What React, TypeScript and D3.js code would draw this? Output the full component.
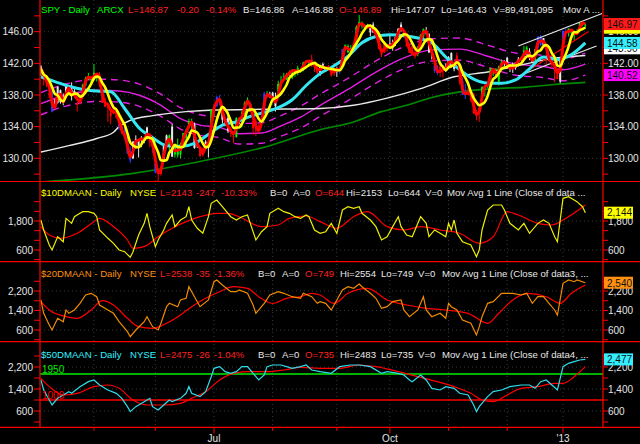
import React from "react";
import * as d3 from "d3";

// ---------------- DATA ----------------
// trading-day index 0 = 2012-04-03 ... 195 = 2013-01-14
const monthTickIdx = [19, 41, 62, 83, 106, 125, 146, 167, 187];
const monthTickLabels = ["", "", "Jul", "", "", "Oct", "", "", "'13"];

const opens = [141.6,140.3,139.4,138.0,138.5,137.3,137.0,138.6,137.9,137.8,138.8,138.7,138.5,136.9,137.0,138.6,139.2,140.3,140.1,139.9,140.1,140.6,138.5,136.5,136.4,135.3,136.5,135.2,134.3,134.0,133.6,132.6,130.9,130.0,132.4,131.5,132.6,132.5,133.0,132.5,131.8,129.3,128.3,128.0,129.6,132.9,131.5,134.0,130.5,131.5,130.5,131.8,132.6,133.9,134.7,134.3,131.6,131.2,130.4,131.2,131.3,134.0,136.1,136.6,137.2,135.9,134.9,135.1,133.6,132.8,132.7,134.7,135.4,135.6,137.3,136.8,133.8,134.7,133.7,135.8,135.8,138.2,137.9,138.3,137.2,138.5,139.5,140.1,140.0,140.6,140.2,140.9,141.4,140.9,141.2,142.2,142.1,142.5,141.6,141.3,140.6,141.9,141.3,141.5,140.9,141.0,141.3,141.1,141.5,143.7,144.2,143.4,144.3,144.3,146.9,146.9,146.6,146.6,145.9,146.9,145.3,145.9,143.7,143.4,144.0,144.5,144.6,144.7,145.4,146.9,145.8,145.8,144.1,144.2,143.4,143.2,144.6,145.4,145.9,145.7,143.3,141.7,141.6,141.6,141.2,141.5,141.5,143.3,141.3,142.1,141.5,139.8,138.0,138.6,137.4,138.1,135.8,135.7,137.6,138.9,139.1,139.9,140.9,140.9,139.7,141.9,142.0,142.7,141.5,141.3,141.4,142.1,142.5,142.8,144.0,143.5,142.7,142.3,144.0,145.4,144.3,142.8,142.6,142.5,141.8,140.6,139.7,145.1,145.9,145.9,145.9,145.7,145.9,146.7,147.1,146.89];
const highs = [141.8,140.4,140.0,139.3,138.9,137.5,139.1,138.7,138.2,139.4,139.2,139.6,138.8,137.1,137.8,139.4,140.3,140.8,140.3,141.9,140.6,140.9,138.8,137.6,136.6,136.3,136.8,136.4,134.7,134.6,134.2,132.8,131.5,132.2,132.9,132.4,132.8,132.7,134.0,132.5,132.6,129.6,128.8,129.0,131.9,133.0,133.0,134.3,131.7,132.5,132.0,133.2,133.7,135.0,135.0,134.5,132.3,131.3,131.3,132.3,131.8,136.2,136.6,137.8,138.0,136.0,135.0,135.9,134.0,133.0,135.2,135.1,136.0,137.2,137.7,137.0,135.0,135.0,134.3,136.2,138.4,138.5,138.4,138.4,138.3,139.8,140.4,140.8,140.8,141.1,141.2,141.1,141.7,141.4,142.2,142.4,142.4,143.1,142.0,141.5,141.8,142.1,141.5,141.8,141.1,142.1,141.6,141.6,143.8,144.4,144.4,144.3,144.6,146.8,148.1,147.3,146.9,147.0,146.7,147.2,145.9,146.1,143.9,144.8,144.2,145.5,145.0,145.4,146.4,147.2,146.2,145.9,144.4,144.4,143.9,144.2,145.7,146.4,146.6,145.8,143.6,142.5,141.8,142.0,141.6,142.0,142.9,143.4,142.1,143.4,141.8,140.2,139.4,138.9,138.6,138.3,136.1,136.4,139.1,139.2,139.5,141.4,141.1,141.4,141.7,142.5,142.4,142.8,141.8,142.1,142.1,142.8,142.8,144.2,144.2,143.9,142.8,143.8,145.4,145.6,145.2,143.2,142.8,142.6,142.0,141.4,142.6,146.2,146.4,146.4,146.1,145.8,146.3,147.1,147.2,147.07];
const lows = [140.4,139.2,139.0,137.6,135.8,136.5,136.9,136.9,136.7,137.6,138.4,137.3,137.9,135.9,136.8,138.4,139.1,139.9,139.6,139.8,139.7,139.0,137.0,136.5,134.6,134.3,135.6,135.0,133.6,133.0,132.5,130.6,129.4,129.9,131.2,130.1,131.4,131.9,132.4,131.4,130.7,128.1,127.1,127.8,129.6,131.6,131.0,130.2,130.1,130.1,130.0,131.5,132.3,133.8,133.5,131.2,131.3,130.1,130.2,131.0,130.1,133.9,135.2,136.5,136.7,134.4,134.1,133.2,132.7,131.9,132.6,134.3,133.9,135.4,136.8,135.9,133.0,132.8,133.1,134.9,135.6,137.7,137.6,137.2,135.9,138.3,139.3,139.9,139.9,140.4,140.0,140.3,140.5,140.8,141.0,142.0,141.8,141.5,140.9,140.6,140.4,141.3,140.9,141.2,140.3,140.4,140.3,140.7,141.5,143.6,143.3,143.4,143.9,144.2,146.6,146.4,146.2,146.4,145.4,145.9,145.2,143.8,142.8,143.3,143.5,144.0,143.6,144.2,145.3,146.0,145.6,144.1,143.3,143.3,142.6,142.9,144.5,145.2,145.6,143.3,142.5,140.8,140.5,140.3,140.2,140.9,141.5,141.5,141.0,141.9,139.3,138.0,137.5,138.0,137.1,135.6,134.8,134.6,137.5,137.8,138.9,139.8,140.4,140.4,139.2,141.5,141.6,141.5,140.9,140.8,141.2,141.6,142.3,142.8,143.2,142.4,142.1,142.2,143.7,144.2,144.0,141.8,142.3,141.4,139.6,140.0,139.5,144.7,145.3,145.4,145.4,144.9,145.7,146.2,146.7,146.43];
const closes = [141.3,139.9,139.8,138.2,135.9,136.9,139.0,137.1,137.1,139.2,138.6,137.9,138.1,136.9,137.4,139.3,140.1,140.4,139.9,140.8,140.5,139.4,137.0,137.1,136.5,135.7,136.0,135.5,133.9,133.2,132.6,130.6,129.7,132.1,132.2,132.4,132.5,132.2,133.9,132.0,131.5,128.2,128.1,128.9,131.8,131.9,132.9,130.2,131.7,130.4,131.8,133.2,133.4,134.7,134.5,131.3,132.3,130.3,131.0,132.1,131.8,136.1,136.5,137.8,137.2,134.9,134.6,133.5,133.5,132.7,135.1,134.7,135.8,137.0,137.4,135.9,134.7,133.5,133.5,135.5,138.2,138.0,137.7,137.6,136.6,139.4,139.6,140.3,140.6,140.9,141.2,141.0,141.0,141.2,142.1,142.3,142.3,141.8,141.8,140.8,141.6,141.5,141.3,141.5,140.5,141.3,141.2,141.1,143.8,144.3,143.4,143.9,144.4,146.6,147.2,146.8,146.5,146.7,146.7,145.9,145.5,143.9,143.1,144.5,144.0,144.4,144.5,145.3,146.4,146.4,145.8,144.2,143.3,143.3,142.9,144.1,145.6,146.3,145.9,143.4,143.5,141.1,140.8,141.2,141.2,141.4,142.8,141.6,141.9,143.0,139.7,138.0,138.3,138.3,137.7,135.7,135.4,136.4,139.0,139.1,139.4,141.4,141.1,140.4,141.6,142.1,142.2,141.5,141.3,141.5,142.1,142.5,142.6,143.6,143.5,142.7,142.1,143.8,145.4,144.3,145.2,142.8,142.4,141.8,141.6,140.0,142.4,146.1,145.7,146.4,146.0,145.6,145.9,147.1,147.07,146.87];

const candleColorRuns: [string, number][] = [
  ["W",1],["R",3],["B",1],["W",8],["R",2],["G",6],["R",7],["B",1],["R",1],["B",3],["W",6],["R",1],["B",2],["R",2],["W",2],["G",1],["W",1],["G",7],["W",2],["R",2],["W",2],["G",2],["B",2],["W",3],["R",2],["G",1],["W",1],["G",3],["W",1],["R",3],["B",2],["G",1],["W",3],["G",12],["R",3],["W",3],["R",3],["W",1],["B",2],["G",7],["R",1],["G",1],["W",2],["R",5],["W",5],["R",5],["G",3],["W",3],["B",2],["R",2],["W",4],["R",2],["B",2],["R",5],["G",8],["W",6],["G",3],["W",2],["G",1],["B",2],["W",1],["R",1],["W",1],["R",3],["W",1],["B",2],["G",7]
];

// longer averages: [day index, price]
const cyanAvg: [number, number][] = [[0,140.3],[5,139.7],[10,139.1],[15,138.7],[20,138.5],[25,138.4],[30,136.3],[35,133.9],[40,132.6],[45,131.6],[50,131.5],[55,131.9],[60,133.0],[65,134.2],[70,134.6],[75,135.3],[80,135.8],[85,136.4],[90,137.4],[95,139.2],[100,140.7],[105,141.7],[110,142.9],[115,144.6],[120,145.4],[125,145.6],[130,145.5],[135,145.2],[140,144.6],[145,142.8],[150,141.2],[155,140.0],[160,139.5],[165,139.5],[170,139.9],[175,141.3],[180,142.8],[185,142.5],[190,143.1],[195,144.58]];
const magentaMid: [number, number][] = [[0,136.9],[9,138.0],[21,138.6],[28,138.5],[35,138.0],[43,136.7],[50,135.0],[57,134.2],[64,133.9],[71,133.1],[79,133.2],[86,134.1],[93,135.2],[100,136.7],[110,138.7],[120,140.9],[130,142.7],[140,143.7],[150,143.8],[160,142.9],[170,141.9],[180,141.6],[187,141.2],[195,141.9]];
const magentaUpper: [number, number][] = [[0,138.3],[9,139.4],[21,140.0],[28,139.9],[35,139.4],[43,138.1],[50,136.4],[57,135.5],[64,135.2],[71,134.4],[79,134.5],[86,135.4],[93,136.6],[100,138.1],[110,140.1],[120,142.3],[130,144.1],[140,145.1],[150,145.2],[160,144.3],[170,143.3],[180,143.0],[187,142.6],[195,143.3]];
const magentaLower: [number, number][] = [[0,135.5],[9,136.6],[21,137.2],[28,137.1],[35,136.6],[43,135.3],[50,133.7],[57,132.9],[64,132.6],[71,131.8],[79,131.9],[86,132.8],[93,133.8],[100,135.3],[110,137.3],[120,139.5],[130,141.3],[140,142.3],[150,142.4],[160,141.5],[170,140.5],[180,140.2],[187,139.8],[195,140.52]];
const whiteAvg: [number, number][] = [[0,130.8],[10,131.6],[20,132.5],[26,133.3],[28,134.0],[32,134.8],[40,135.4],[52,135.9],[62,136.1],[80,136.2],[100,136.3],[112,136.7],[124,137.6],[136,138.8],[148,140.3],[160,140.9],[172,141.8],[183,142.6],[195,143.0]];
const greenAvg: [number, number][] = [[0,127.0],[33,128.1],[57,129.6],[81,131.5],[100,133.6],[112,134.6],[122,135.9],[131,136.7],[139,137.6],[150,138.4],[162,138.8],[174,139.0],[183,139.3],[195,139.6]];
const upperTrend: [number, number][] = [[171,144.2],[201,148.3]];
const lowerTrend: [number, number][] = [[171,140.4],[199,144.2]];
const redTrend: [number, number][] = [[176,141.4],[196,146.0]];
const whiteBoxValue = 143.9;

// breadth panels: [day index, value]
const ma10Line: [number, number][] = [[0,1841],[1,1428],[3,807],[4,600],[6,1150],[8,944],[9,1910],[11,1703],[12,1978],[14,2118],[15,2185],[17,2185],[19,2118],[20,1978],[21,1428],[24,1084],[26,877],[28,600],[30,530],[32,298],[33,530],[35,1221],[37,1703],[38,2118],[39,1566],[41,737],[42,1014],[44,1428],[45,1703],[47,2048],[48,1566],[50,1841],[52,1978],[53,2392],[54,1841],[56,1498],[58,1291],[60,1978],[61,2532],[63,2669],[65,2392],[68,1978],[70,1841],[72,1978],[74,2048],[77,1014],[79,1357],[81,1566],[82,2118],[85,2325],[87,2185],[89,2118],[91,1978],[93,1910],[95,2048],[96,1978],[98,1428],[100,1291],[102,1357],[104,1703],[106,1291],[108,2255],[110,2392],[112,2325],[114,2392],[115,2118],[118,1841],[120,1566],[122,1014],[124,1150],[126,1566],[128,1978],[129,1566],[131,1221],[133,1150],[135,1703],[136,1978],[138,1703],[139,1150],[141,1428],[143,1291],[145,1150],[146,1703],[147,1428],[148,1841],[149,1291],[151,944],[154,807],[156,323],[157,600],[158,1428],[160,2255],[162,2462],[165,2462],[166,2255],[168,1703],[171,1428],[173,1703],[175,1291],[178,1703],[180,1841],[182,1703],[184,1150],[185,944],[187,2739],[189,2808],[191,2669],[192,2600],[194,2392],[195,2143]];
const ma10Avg: [number, number][] = [[0,1566],[3,1221],[7,1084],[13,1291],[19,1772],[21,1910],[26,1566],[31,1014],[33,670],[37,737],[42,1150],[47,1498],[52,1772],[57,1978],[63,2118],[67,2118],[71,1978],[79,1566],[85,1634],[89,1910],[95,2007],[100,1772],[106,1498],[112,1978],[117,2185],[124,1566],[130,1428],[136,1566],[143,1428],[150,1291],[157,877],[162,1150],[167,2185],[171,2048],[178,1703],[183,1634],[188,1910],[195,2462]];
const ma20Line: [number, number][] = [[0,1831],[1,1285],[3,805],[4,600],[6,1080],[8,941],[9,1421],[10,1285],[12,1421],[14,1695],[16,2036],[18,2105],[20,1966],[21,1626],[24,1421],[26,1285],[28,941],[31,531],[32,326],[34,600],[37,941],[38,1146],[40,736],[42,600],[43,875],[45,1556],[46,1695],[49,1556],[50,1831],[52,1900],[53,2376],[55,1966],[57,1556],[60,1831],[62,2581],[63,2651],[65,2446],[68,2171],[70,2171],[71,2241],[74,2105],[76,1626],[77,1285],[80,1695],[82,2036],[85,2171],[87,2105],[90,1966],[93,1900],[94,2105],[97,1966],[99,1695],[100,1763],[102,1695],[104,1421],[106,1831],[108,2241],[110,2376],[112,2310],[114,2487],[115,2376],[118,2105],[120,1900],[122,1490],[124,1556],[126,1763],[129,1831],[130,1421],[132,1146],[135,1421],[137,1966],[138,1421],[140,1146],[143,1285],[145,1080],[146,1695],[147,1556],[149,1421],[151,1010],[154,875],[156,395],[157,736],[158,1146],[160,1695],[162,1763],[165,2105],[167,2105],[169,2105],[172,2036],[174,2105],[176,1695],[178,1966],[180,1966],[182,1695],[184,1421],[185,1216],[187,2516],[189,2651],[191,2581],[192,2651],[195,2538]];
const ma20Avg: [number, number][] = [[0,1763],[3,1421],[9,1146],[13,1080],[18,1421],[22,1803],[26,1626],[31,1080],[35,736],[40,668],[45,875],[50,1216],[54,1556],[59,1900],[64,2171],[69,2376],[74,2310],[78,1966],[83,1695],[88,1900],[93,1966],[97,2105],[100,2036],[105,1695],[110,2105],[117,2310],[124,1831],[131,1626],[138,1490],[145,1421],[153,1285],[160,875],[164,1285],[169,1831],[174,2105],[181,1966],[186,1695],[190,2105],[195,2446]];
const ma50Line: [number, number][] = [[0,1727],[1,1364],[3,1000],[4,818],[6,1061],[8,1182],[10,1303],[11,1243],[14,1485],[17,1667],[19,1727],[21,1545],[24,1364],[27,1243],[29,1061],[31,758],[32,576],[34,758],[37,939],[39,1061],[40,758],[42,636],[44,818],[46,1000],[47,939],[50,1061],[52,1243],[53,1485],[54,1243],[57,1121],[59,1303],[61,1848],[62,2152],[64,2212],[66,2030],[68,1970],[70,2030],[72,2212],[74,2212],[76,1970],[78,1727],[80,1909],[81,2212],[83,2273],[86,2273],[88,2212],[90,2152],[93,2212],[95,2273],[97,2091],[100,2030],[104,1970],[107,2212],[111,2273],[114,2273],[118,2212],[122,1970],[124,2030],[128,1970],[130,1909],[132,1727],[133,1667],[136,1909],[138,1727],[140,1424],[143,1364],[145,1485],[148,1424],[150,1243],[153,1182],[155,818],[156,576],[157,758],[160,1121],[162,1303],[165,1364],[168,1485],[172,1545],[175,1545],[177,1424],[179,1667],[181,1727],[183,1545],[185,1364],[187,2212],[189,2333],[191,2394],[193,2455],[195,2475]];
const ma50Avg: [number, number][] = [[0,1788],[3,1485],[8,1182],[13,1243],[19,1485],[24,1545],[28,1424],[33,1000],[38,818],[44,818],[50,879],[54,1061],[59,1303],[64,1727],[69,1970],[74,2030],[81,2030],[87,2091],[93,2188],[100,2152],[107,2152],[114,2273],[120,2212],[128,2030],[135,1848],[142,1667],[148,1485],[154,1243],[158,1000],[162,939],[167,1182],[172,1424],[178,1485],[184,1606],[187,1606],[191,1848],[195,2212]];

const priceTicks = [128, 130, 132, 134, 136, 138, 140, 142, 144, 146, 148];
const priceLabels = [130, 134, 138, 142, 146];
const breadthTicks = [200, 600, 1000, 1400, 1800, 2200, 2600];
const p2Labels = [600, 1800];
const p34Labels = [600, 1400, 2200];
const hLevels = [1950, 1000];
const lastBoxes = { p2: 2144, p3: 2540, p4: 2477 };

// ---------------- CHART ----------------
const FONT = "'Liberation Sans', Arial, sans-serif";
const L = 40, R = 603;
const SEP = [181.5, 261.7, 341.7, 427.3];
const COL = { G: "#00ee00", R: "#ff0000", B: "#2a3cff", W: "#e8e8e8" } as Record<string, string>;
const HFS = 9.6;

export default function App() {
  const x = d3.scaleLinear().domain([0, 195]).range([40.9, 40.9 + 195 * 2.792]);
  const yP = d3.scaleLinear().domain([130, 146]).range([158.3, 31.7]);
  const y2 = d3.scaleLinear().domain([600, 1800]).range([250, 221]);
  const y3 = d3.scaleLinear().domain([600, 2200]).range([330, 291]);
  const y4 = d3.scaleLinear().domain([600, 2200]).range([411, 367]);

  const colors: string[] = [];
  candleColorRuns.forEach(([c, n]) => { for (let k = 0; k < n; k++) colors.push(c); });

  const sma = (arr: number[], n: number) =>
    arr.map((_, i) => d3.mean(arr.slice(Math.max(0, i - n + 1), i + 1)) as number);
  const red2 = sma(closes, 2);
  const yel5 = sma(closes, 5);

  const lineP = (ys: d3.ScaleLinear<number, number>, curve: any = d3.curveLinear) =>
    d3.line<[number, number]>().x(d => x(d[0])).y(d => ys(d[1])).curve(curve);
  const smooth = lineP(yP, d3.curveMonotoneX);
  const straight = lineP(yP);
  const daily = (arr: number[]) => smooth(arr.map((v, i) => [i, v] as [number, number])) as string;

  const fmt = d3.format(",");
  const txt = (items: [string, string, number][], y: number) =>
    items.map(([t, c, xx], k) => (
      <text key={k} x={xx} y={y} fill={c} fontSize={HFS} fontFamily={FONT} style={{ whiteSpace: "pre" }}>{t}</text>
    ));

  const axis = (ticks: number[], labels: number[], ys: any, f: (v: number) => string, top: number, bot: number) => (
    <g>
      {ticks.filter(t => ys(t) > top + 2 && ys(t) < bot - 1).map(t => (
        <g key={t}>
          <line x1={34} x2={L} y1={ys(t)} y2={ys(t)} stroke="#ff0000" strokeWidth={1} />
          <line x1={R} x2={R + 5} y1={ys(t)} y2={ys(t)} stroke="#ff0000" strokeWidth={1} />
        </g>
      ))}
      {labels.map(t => (
        <g key={"l" + t}>
          <line x1={L} x2={R} y1={ys(t)} y2={ys(t)} stroke="#383838" strokeDasharray="1,3" />
          <text x={33} y={ys(t) + 3.6} textAnchor="end" fill="#e4e4e4" fontSize={10} fontFamily={FONT}>{f(t)}</text>
          <text x={608} y={ys(t) + 3.6} fill="#e4e4e4" fontSize={10} fontFamily={FONT}>{f(t)}</text>
        </g>
      ))}
    </g>
  );

  const box = (v: number, ys: any, fill: string, label: string | null, w: number, key: string) => (
    <g key={key}>
      <rect x={604} y={ys(v) - 6} width={w} height={12} fill={fill} />
      {label && <text x={607} y={ys(v) + 3.8} fill="#111" fontSize={10} fontFamily={FONT}>{label}</text>}
    </g>
  );

  const lastLower = magentaLower[magentaLower.length - 1][1];

  return (
    <svg width={640} height={444} style={{ position: "absolute", left: 0, top: 0, background: "#000" }}>
      <rect width={640} height={444} fill="#000" />
      <defs>
        <clipPath id="c1"><rect x={L} y={0} width={R - L} height={SEP[0]} /></clipPath>
        <clipPath id="c2"><rect x={L} y={SEP[0]} width={R - L} height={SEP[1] - SEP[0]} /></clipPath>
        <clipPath id="c3"><rect x={L} y={SEP[1]} width={R - L} height={SEP[2] - SEP[1]} /></clipPath>
        <clipPath id="c4"><rect x={L} y={SEP[2]} width={R - L} height={SEP[3] - SEP[2]} /></clipPath>
      </defs>

      {monthTickIdx.map(i => (
        <line key={"g" + i} x1={x(i)} x2={x(i)} y1={0} y2={SEP[3]} stroke="#383838" strokeDasharray="1,3" />
      ))}

      {axis(priceTicks, priceLabels, yP, v => v.toFixed(2), 0, SEP[0])}
      {axis(breadthTicks, p2Labels, y2, fmt, SEP[0], SEP[1])}
      {axis(breadthTicks, p34Labels, y3, fmt, SEP[1], SEP[2])}
      {axis(breadthTicks, p34Labels, y4, fmt, SEP[2], SEP[3])}

      {/* price panel */}
      <g clipPath="url(#c1)">
        <path d={smooth(greenAvg) as string} fill="none" stroke="#008a00" strokeWidth={1.6} />
        <path d={smooth(magentaUpper) as string} fill="none" stroke="#e020e0" strokeWidth={1.4} strokeDasharray="7,5" />
        <path d={smooth(magentaLower) as string} fill="none" stroke="#e020e0" strokeWidth={1.4} strokeDasharray="7,5" />
        <path d={smooth(magentaMid) as string} fill="none" stroke="#e020e0" strokeWidth={1.4} />
        <path d={smooth(whiteAvg) as string} fill="none" stroke="#e8e8e8" strokeWidth={1.4} />
        {closes.map((c, i) => {
          const o = opens[i];
          const col = COL[colors[i]];
          const top = yP(Math.max(o, c)), bot = yP(Math.min(o, c));
          return (
            <g key={i}>
              <line x1={x(i)} x2={x(i)} y1={yP(highs[i])} y2={yP(lows[i])} stroke={col} strokeWidth={1} />
              <rect x={x(i) - 1} y={top} width={2} height={Math.max(1, bot - top)} fill={col} />
            </g>
          );
        })}
        <path d={straight(upperTrend) as string} fill="none" stroke="#e8e8e8" strokeWidth={1.2} />
        <path d={straight(lowerTrend) as string} fill="none" stroke="#e8e8e8" strokeWidth={1.2} />
        <path d={straight(redTrend) as string} fill="none" stroke="#ff0000" strokeWidth={1.2} />
        <path d={smooth(cyanAvg) as string} fill="none" stroke="#33e6f2" strokeWidth={3} />
        <path d={daily(red2)} fill="none" stroke="#ff0000" strokeWidth={3} />
        <path d={daily(yel5)} fill="none" stroke="#ffff00" strokeWidth={2.6} />
      </g>

      {/* breadth panels */}
      <g clipPath="url(#c2)">
        <path d={lineP(y2, d3.curveMonotoneX)(ma10Avg) as string} fill="none" stroke="#ff0000" strokeWidth={1.2} />
        <path d={lineP(y2)(ma10Line) as string} fill="none" stroke="#eeee00" strokeWidth={1.2} />
      </g>
      <g clipPath="url(#c3)">
        <path d={lineP(y3, d3.curveMonotoneX)(ma20Avg) as string} fill="none" stroke="#ff0000" strokeWidth={1.2} />
        <path d={lineP(y3)(ma20Line) as string} fill="none" stroke="#f08c00" strokeWidth={1.2} />
      </g>
      <g clipPath="url(#c4)">
        <line x1={L} x2={R} y1={y4(hLevels[0])} y2={y4(hLevels[0])} stroke="#00ee00" strokeWidth={1.5} />
        <line x1={L} x2={R} y1={y4(hLevels[1])} y2={y4(hLevels[1])} stroke="#ff0000" strokeWidth={1.5} />
        <path d={lineP(y4, d3.curveMonotoneX)(ma50Avg) as string} fill="none" stroke="#ff0000" strokeWidth={1.2} />
        <path d={lineP(y4)(ma50Line) as string} fill="none" stroke="#30dcea" strokeWidth={1.2} />
      </g>
      <text x={42} y={y4(hLevels[0]) - 1} fill="#00ee00" fontSize={10} fontFamily={FONT}>{hLevels[0]}</text>
      <text x={42} y={y4(hLevels[1]) - 1} fill="#ff0000" fontSize={10} fontFamily={FONT}>{hLevels[1]}</text>

      {/* frame */}
      {SEP.map((s, k) => <line key={"s" + k} x1={0} x2={640} y1={s} y2={s} stroke="#ff0000" strokeWidth={1.2} />)}
      <line x1={L} x2={L} y1={0} y2={SEP[3]} stroke="#ff0000" strokeWidth={1.2} />
      <line x1={R} x2={R} y1={0} y2={SEP[3]} stroke="#ff0000" strokeWidth={1.2} />

      {monthTickIdx.map((i, k) => (
        <g key={"t" + i}>
          <line x1={x(i)} x2={x(i)} y1={SEP[3]} y2={SEP[3] + (monthTickLabels[k] ? 6 : 3.5)} stroke="#ff0000" />
          {monthTickLabels[k] && (
            <text x={x(i)} y={442} textAnchor="middle" fill="#e4e4e4" fontSize={10} fontFamily={FONT}>{monthTickLabels[k]}</text>
          )}
        </g>
      ))}

      {/* right value boxes */}
      {box(lastLower, yP, "#ff00ff", lastLower.toFixed(2), 36, "bm")}
      {box(whiteBoxValue, yP, "#ffffff", whiteBoxValue.toFixed(2), 36, "bw")}
      {box(cyanAvg[cyanAvg.length - 1][1], yP, "#33f0ff", cyanAvg[cyanAvg.length - 1][1].toFixed(2), 36, "bc")}
      {box(yel5[yel5.length - 1], yP, "#ffff00", null, 36, "by")}
      {box(red2[red2.length - 1], yP, "#ff1a1a", red2[red2.length - 1].toFixed(2), 36, "br")}
      {box(lastBoxes.p2, y2, "#ffff00", fmt(lastBoxes.p2), 29, "b2")}
      {box(lastBoxes.p3, y3, "#ff9010", fmt(lastBoxes.p3), 29, "b3")}
      {box(lastBoxes.p4, y4, "#33f0ff", fmt(lastBoxes.p4), 29, "b4")}

      {/* headers */}
      {txt([["SPY - Daily", "#00ff00", 41], ["ARCX", "#00ff00", 97], ["L=146.87", "#ff2020", 128], ["-0.20", "#ff2020", 177], ["-0.14%", "#ff2020", 206],
        ["B=146.86", "#e8e8e8", 243], ["A=146.88", "#e8e8e8", 292], ["O=146.89", "#ff2020", 339], ["Hi=147.07", "#e8e8e8", 391], ["Lo=146.43", "#e8e8e8", 441],
        ["V=89,491,095", "#e8e8e8", 493], ["Mov A ...", "#e8e8e8", 563]], 13)}
      {txt([["$10DMAAN - Daily", "#ffff00", 41], ["NYSE", "#ffff00", 130], ["L=2143", "#ff2020", 160], ["-247", "#ff2020", 196], ["-10.33%", "#ff2020", 221],
        ["B=0", "#e8e8e8", 270], ["A=0", "#e8e8e8", 293], ["O=644", "#ff2020", 315], ["Hi=2153", "#e8e8e8", 346], ["Lo=644", "#e8e8e8", 388], ["V=0", "#e8e8e8", 425],
        ["Mov Avg 1 Line (Close of data ...", "#e8e8e8", 447]], 196)}
      {txt([["$20DMAAN - Daily", "#ff9010", 41], ["NYSE", "#ff9010", 130], ["L=2538", "#ff2020", 160], ["-35", "#ff2020", 196], ["-1.36%", "#ff2020", 214],
        ["B=0", "#e8e8e8", 258], ["A=0", "#e8e8e8", 282], ["O=749", "#ff2020", 305], ["Hi=2554", "#e8e8e8", 340], ["Lo=749", "#e8e8e8", 381], ["V=0", "#e8e8e8", 418],
        ["Mov Avg 1 Line (Close of data3, ...", "#e8e8e8", 442]], 277)}
      {txt([["$50DMAAN - Daily", "#33f0ff", 41], ["NYSE", "#33f0ff", 130], ["L=2475", "#ff2020", 160], ["-26", "#ff2020", 196], ["-1.04%", "#ff2020", 214],
        ["B=0", "#e8e8e8", 258], ["A=0", "#e8e8e8", 282], ["O=735", "#ff2020", 305], ["Hi=2483", "#e8e8e8", 340], ["Lo=735", "#e8e8e8", 381], ["V=0", "#e8e8e8", 418],
        ["Mov Avg 1 Line (Close of data4, ...", "#e8e8e8", 442]], 358)}
    </svg>
  );
}
